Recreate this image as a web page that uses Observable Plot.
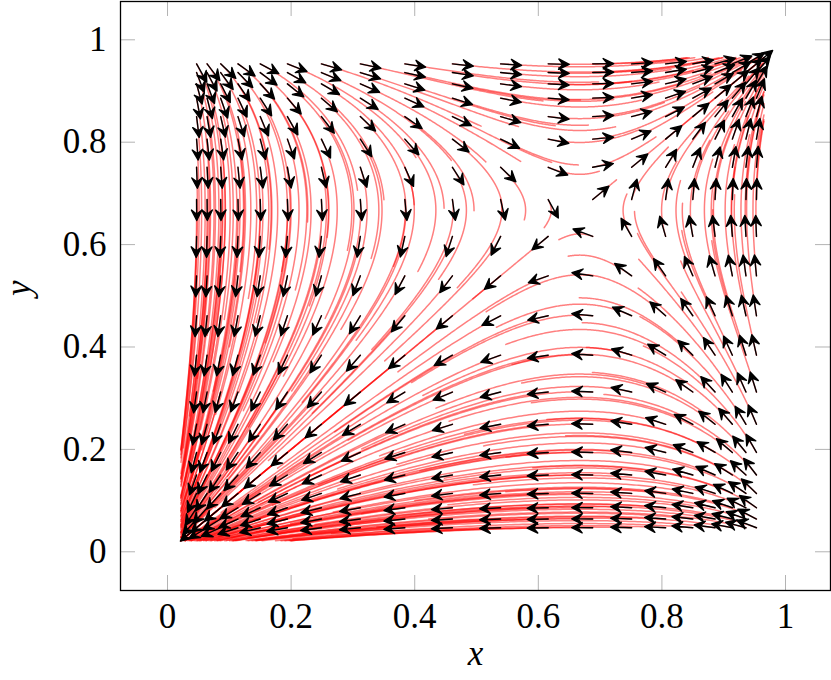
<!DOCTYPE html>
<html><head><meta charset="utf-8">
<script src="https://cdn.jsdelivr.net/npm/d3@7"></script>
<script src="https://cdn.jsdelivr.net/npm/@observablehq/plot@0.6"></script>
<style>body{margin:0;background:#fff}</style>
</head><body><div id="chart"></div>
<script>
// Seed grid (arrow tails / streamline starts)
const gridX = [0.047, 0.064, 0.086, 0.114, 0.150, 0.194, 0.249, 0.312, 0.384, 0.461,
               0.539, 0.616, 0.688, 0.751, 0.806, 0.850, 0.886, 0.914, 0.936, 0.953];
const gridY = [0.047, 0.064, 0.086, 0.114, 0.150, 0.194, 0.249, 0.312, 0.384, 0.461,
               0.539, 0.616, 0.688, 0.751, 0.806, 0.850, 0.886, 0.914, 0.936, 0.953];
// Interior rest point (saddle) of the field
const saddleX = 0.667;
const saddleY = 0.667;
// Length (in time) of each red streamline and the box where they stop
const flowTime = 5;
const stopLow = 0.022;
const stopHigh = 0.965;
const xTicks = [0, 0.2, 0.4, 0.6, 0.8, 1];
const yTicks = [0, 0.2, 0.4, 0.6, 0.8, 1];
const xTickLabels = ["0", "0.2", "0.4", "0.6", "0.8", "1"];
const yTickLabels = ["0", "0.2", "0.4", "0.6", "0.8", "1"];
const xDomain = [-0.0761, 1.0728];
const yDomain = [-0.0756, 1.0748];

const W = 831, H = 680;
const mL = 120, mR = 1, mT = 1, mB = 90;
const plotW = W - mL - mR, plotH = H - mT - mB;

function field(x, y) {
  return [x * (1 - x) * (y - saddleY), y * (1 - y) * (x - saddleX)];
}

// streamlines from every seed
const steps = 120;
const dt = flowTime / steps;
const lines = [];
let id = 0;
for (const gx of gridX) for (const gy of gridY) {
  let x = gx, y = gy;
  lines.push({id, x, y});
  for (let s = 0; s < steps; s++) {
    const k1 = field(x, y);
    const k2 = field(x + dt / 2 * k1[0], y + dt / 2 * k1[1]);
    const k3 = field(x + dt / 2 * k2[0], y + dt / 2 * k2[1]);
    const k4 = field(x + dt * k3[0], y + dt * k3[1]);
    x += dt / 6 * (k1[0] + 2 * k2[0] + 2 * k3[0] + k4[0]);
    y += dt / 6 * (k1[1] + 2 * k2[1] + 2 * k3[1] + k4[1]);
    lines.push({id, x, y});
    if (x < stopLow || y < stopLow || x > stopHigh || y > stopHigh) break;
  }
  id++;
}

// arrows (normalized direction in screen space)
const sx = plotW / (xDomain[1] - xDomain[0]);
const sy = plotH / (yDomain[1] - yDomain[0]);
const arrows = [];
for (const gx of gridX) for (const gy of gridY) {
  const [u, v] = field(gx, gy);
  arrows.push({x: gx, y: gy, rotate: Math.atan2(u * sx, v * sy) * 180 / Math.PI});
}

const stealth = {
  draw(context, l) {
    const h = 10.5, w = 5.2;
    context.moveTo(0, 0);
    context.lineTo(0, -l + 4);
    context.moveTo(0, -l);
    context.lineTo(w, -l + h);
    context.lineTo(0, -l + h * 0.6);
    context.lineTo(-w, -l + h);
    context.closePath();
  }
};

const font = "'Liberation Serif', 'DejaVu Serif', serif";
const tickLen = 15;

const chart = Plot.plot({
  width: W, height: H,
  marginLeft: mL, marginRight: mR, marginTop: mT, marginBottom: mB,
  style: `font-family: ${font}; background: white; overflow: visible;`,
  x: {domain: xDomain, axis: null},
  y: {domain: yDomain, axis: null},
  marks: [
    Plot.line(lines, {x: "x", y: "y", z: "id", stroke: "red", strokeOpacity: 0.5, strokeWidth: 1.5}),
    Plot.vector(arrows, {x: "x", y: "y", rotate: "rotate", length: 21, anchor: "start",
      shape: stealth, stroke: "black", fill: "black", strokeWidth: 1.4}),
    Plot.ruleX(xTicks, {x: d => d, insetTop: plotH - tickLen, stroke: "#b3b3b3", strokeWidth: 1}),
    Plot.ruleX(xTicks, {x: d => d, insetBottom: plotH - tickLen, stroke: "#b3b3b3", strokeWidth: 1}),
    Plot.ruleY(yTicks, {y: d => d, insetRight: plotW - tickLen, stroke: "#b3b3b3", strokeWidth: 1}),
    Plot.ruleY(yTicks, {y: d => d, insetLeft: plotW - tickLen, stroke: "#b3b3b3", strokeWidth: 1}),
    Plot.frame({stroke: "black", strokeWidth: 1.3}),
    Plot.axisX(xTicks, {tickSize: 0, tickPadding: 13, fontSize: 35, fontFamily: font, label: null,
      tickFormat: d => xTickLabels[xTicks.indexOf(d)]}),
    Plot.axisY(yTicks, {tickSize: 0, tickPadding: 14, fontSize: 35, fontFamily: font, label: null,
      tickFormat: d => yTickLabels[yTicks.indexOf(d)]}),
    Plot.text(["x"], {frameAnchor: "bottom", dy: 74, fontSize: 35, fontFamily: font, fontStyle: "italic"}),
    Plot.text(["y"], {frameAnchor: "left", dx: -102, rotate: -90, fontSize: 35, fontFamily: font, fontStyle: "italic"})
  ]
});
document.getElementById("chart").appendChild(chart);
</script>
</body></html>
